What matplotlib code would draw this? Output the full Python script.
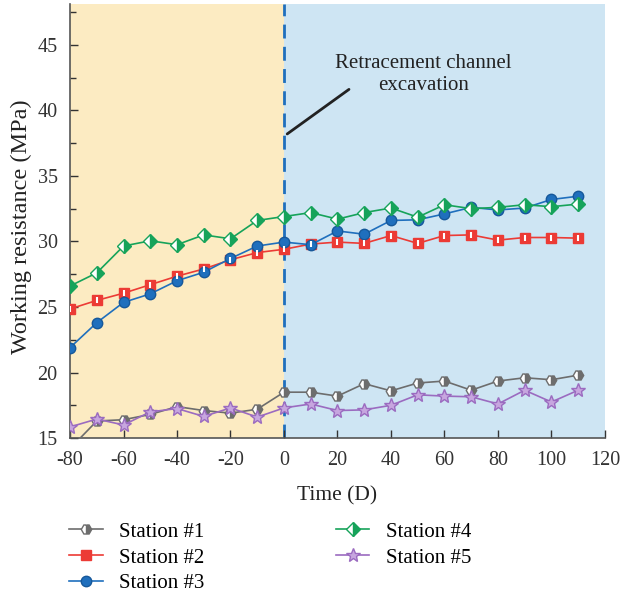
import matplotlib.pyplot as plt

plt.rcParams['font.family'] = ['Liberation Serif', 'DejaVu Serif']
plt.rcParams['axes.unicode_minus'] = False

days = [-80, -70, -60, -50, -40, -30, -20, -10, 0, 10, 20, 30, 40, 50, 60, 70, 80, 90, 100, 110]

station1 = [14.2, 16.3, 16.4, 16.8, 17.4, 17.1, 16.9, 17.2, 18.5, 18.5, 18.2, 19.15, 18.6, 19.2, 19.35, 18.65, 19.35, 19.6, 19.45, 19.8]
station2 = [24.85, 25.5, 26.05, 26.7, 27.35, 27.9, 28.6, 29.15, 29.4, 29.8, 29.95, 29.85, 30.45, 29.85, 30.45, 30.5, 30.1, 30.3, 30.3, 30.25]
station3 = [21.9, 23.8, 25.35, 26.0, 27.0, 27.65, 28.7, 29.65, 29.95, 29.75, 30.8, 30.55, 31.6, 31.65, 32.1, 32.6, 32.4, 32.55, 33.2, 33.45]
station4 = [26.6, 27.6, 29.65, 30.05, 29.75, 30.5, 30.2, 31.6, 31.9, 32.2, 31.7, 32.2, 32.55, 31.85, 32.8, 32.5, 32.6, 32.8, 32.65, 32.85]
station5 = [15.85, 16.45, 16.0, 17.0, 17.25, 16.65, 17.3, 16.6, 17.3, 17.6, 17.1, 17.15, 17.5, 18.3, 18.2, 18.15, 17.6, 18.65, 17.75, 18.65]

labels = ['Station #1', 'Station #2', 'Station #3', 'Station #4', 'Station #5']

fig = plt.figure(figsize=(6.23, 5.96), dpi=100)
ax = fig.add_axes([0.1124, 0.265, 0.8586, 0.728])

ax.axvspan(-80, 0, color='#fcebc2', lw=0, zorder=0)
ax.axvspan(0, 120, color='#cee5f3', lw=0, zorder=0)
ax.axvline(0, color='#1f6fbd', lw=2, ls=(0, (5, 3)), zorder=1)

ax.plot(days, station1, color='#6d6d6d', lw=1.2, marker='H', ms=7.5,
        fillstyle='right', mfc='#6d6d6d', markerfacecoloralt='white',
        mec='#6d6d6d', mew=1, label=labels[0], zorder=3)
ax.plot(days, station2, color='#ec3b35', lw=1.2, marker='s', ms=6.5,
        mfc='#ec3b35', mec='#ec3b35', label=labels[1], zorder=3)
ax.plot(days, station3, color='#1f6fbd', lw=1.2, marker='o', ms=7.5,
        mfc='#1f6fbd', mec='#16589a', label=labels[2], zorder=3)
ax.plot(days, station4, color='#16a35a', lw=1.2, marker='D', ms=7,
        fillstyle='right', mfc='#16a35a', markerfacecoloralt='white',
        mec='#16a35a', mew=1, label=labels[3], zorder=3)
ax.plot(days, station5, color='#9b6bc0', lw=1.2, marker='*', ms=10,
        mfc='#c7a6df', mec='#9b6bc0', label=labels[4], zorder=3)

# white stripe on the square markers
ax.plot(days, station2, ls='none', marker='|', ms=4, mew=1.5, mec='white', zorder=4)

ax.annotate('', xy=(1.2, 38.2), xytext=(24.3, 41.6),
            arrowprops=dict(arrowstyle='-', color='#222222', lw=2, shrinkA=0, shrinkB=0))
ax.text(52, 42.75, 'Retracement channel\nexcavation', ha='center', va='center',
        fontsize=15, color='#222222', linespacing=1.2)

ax.set_xlim(-80, 120)
ax.set_ylim(15, 48.1)
ax.set_xticks(range(-80, 121, 20))
ax.set_yticks([15, 20, 25, 30, 35, 40, 45])
ax.set_yticks([17.5, 22.5, 27.5, 32.5, 37.5, 42.5, 47.5], minor=True)
ax.tick_params(direction='in', labelsize=14.5, colors='#333333', length=6, width=1)
ax.tick_params(axis='y', pad=9)
ax.tick_params(axis='x', pad=9)
ax.tick_params(which='minor', direction='in', length=4, width=1, colors='#333333')
ax.spines['top'].set_visible(False)
ax.spines['right'].set_visible(False)
for s in ['left', 'bottom']:
    ax.spines[s].set_color('#555555')
    ax.spines[s].set_linewidth(1.2)

ax.set_xlabel('Time (D)', fontsize=15.5, color='#222222', labelpad=12)
ax.set_ylabel('Working resistance (MPa)', fontsize=17.5, color='#222222')
ax.yaxis.set_label_coords(-0.071, 0.488)

fig.legend(loc='upper left', bbox_to_anchor=(0.098, 0.138), ncol=2, frameon=False,
           fontsize=15, handlelength=1.6, handletextpad=0.8, columnspacing=6.3,
           labelspacing=0.3, borderaxespad=0)

fig.savefig('out.png', dpi=100)
